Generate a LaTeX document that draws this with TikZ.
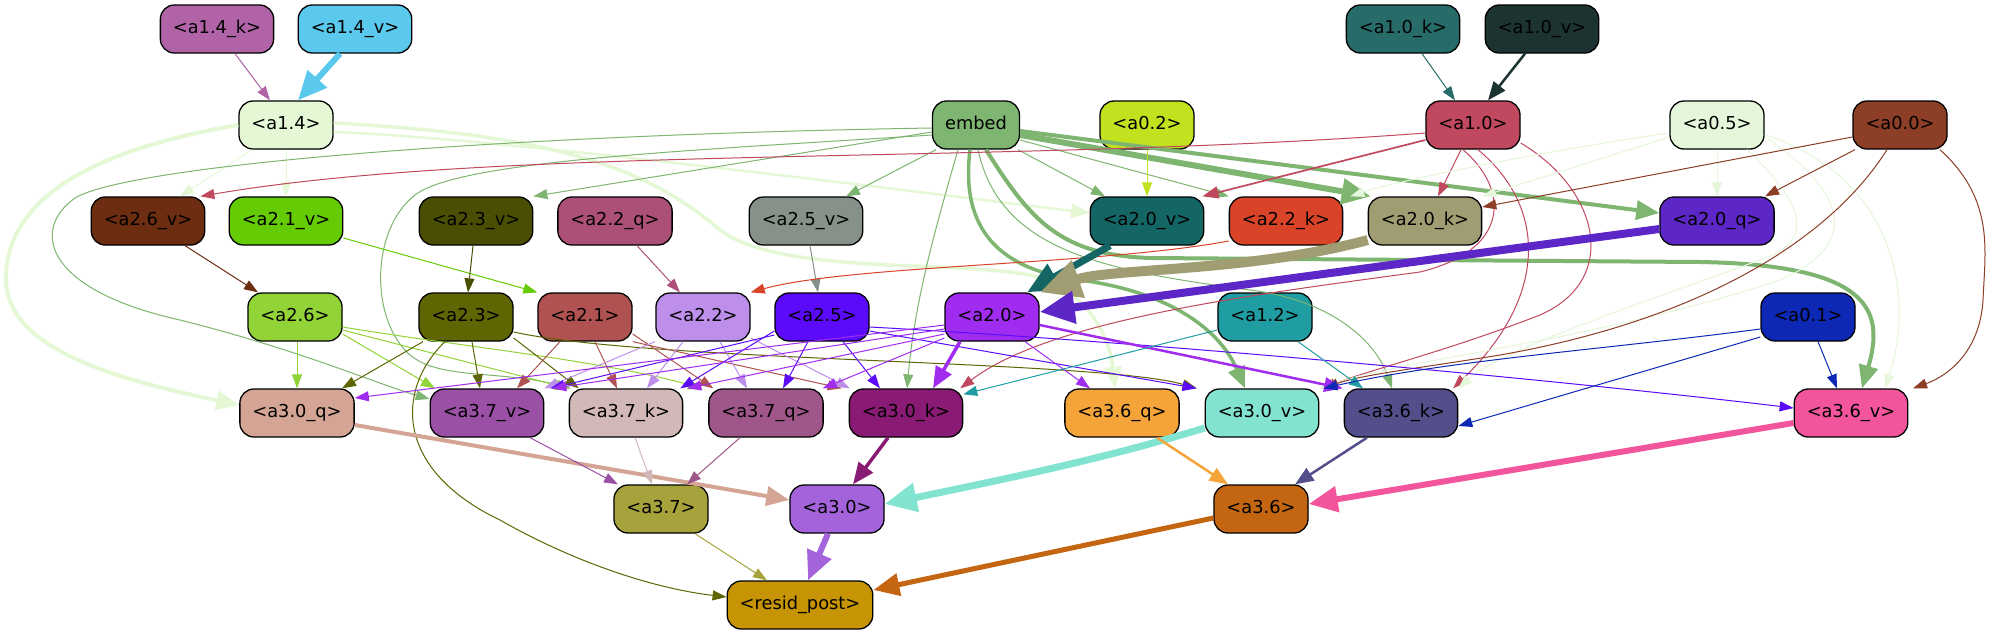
\documentclass[tikz,border=0pt]{standalone}
\usepackage{fontspec}
\setmainfont{DejaVu Sans}
\usetikzlibrary{arrows.meta}
\definecolor{c14k}{HTML}{B163A7}
\definecolor{c14v}{HTML}{5AC9ED}
\definecolor{c14}{HTML}{E5F8D5}
\definecolor{cemb}{HTML}{7EB570}
\definecolor{c02}{HTML}{C2E21F}
\definecolor{c10k}{HTML}{276C68}
\definecolor{c10v}{HTML}{1C3332}
\definecolor{c10}{HTML}{C0485F}
\definecolor{c05}{HTML}{E5F7DA}
\definecolor{c00}{HTML}{8C3E27}
\definecolor{c26v}{HTML}{6C2D10}
\definecolor{c21v}{HTML}{64CB05}
\definecolor{c23v}{HTML}{494E02}
\definecolor{c22q}{HTML}{AC5078}
\definecolor{c25v}{HTML}{859189}
\definecolor{c20v}{HTML}{136664}
\definecolor{c22k}{HTML}{D94428}
\definecolor{c20k}{HTML}{A09D72}
\definecolor{c20q}{HTML}{5D26C7}
\definecolor{c26}{HTML}{92D337}
\definecolor{c23}{HTML}{5E6502}
\definecolor{c21}{HTML}{B05251}
\definecolor{c22}{HTML}{BD8EEA}
\definecolor{c25}{HTML}{5B0BFA}
\definecolor{c20}{HTML}{A02CF0}
\definecolor{c12}{HTML}{1F9DA2}
\definecolor{c01}{HTML}{0E28B6}
\definecolor{c30q}{HTML}{D4A494}
\definecolor{c37v}{HTML}{9A50A5}
\definecolor{c37k}{HTML}{D2B9B7}
\definecolor{c37q}{HTML}{9F5689}
\definecolor{c30k}{HTML}{8A1B74}
\definecolor{c36q}{HTML}{F5A43A}
\definecolor{c30v}{HTML}{82E3D1}
\definecolor{c36k}{HTML}{534F8B}
\definecolor{c36v}{HTML}{F2559B}
\definecolor{c37}{HTML}{A7A33C}
\definecolor{c30}{HTML}{A563DB}
\definecolor{c36}{HTML}{C46611}
\definecolor{cres}{HTML}{C79405}
\tikzset{
  box/.style={draw=black, line width=1.3pt, rounded corners=14pt, minimum height=48pt,
    inner xsep=12.5pt, inner ysep=0pt, text height=13pt, text depth=4pt, text=black,
    font=\fontsize{17.8pt}{21pt}\selectfont},
  ed/.style 2 args={draw=#1, line width=#2, -{Triangle[length=11pt 3, width=7pt 3]}}
}
\begin{document}
\begin{tikzpicture}[x=1pt,y=-1pt]
\fill[white] (0,0) rectangle (1994,635);
\useasboundingbox (0,0) rectangle (1994,635);
% row 0
\node[box,fill=c14k] (a14k) at (217,29) {<a1.4\_k>};
\node[box,fill=c14v] (a14v) at (355,29) {<a1.4\_v>};
\node[box,fill=c10k] (a10k) at (1403,29) {<a1.0\_k>};
\node[box,fill=c10v] (a10v) at (1542,29) {<a1.0\_v>};
% row 1
\node[box,fill=c14] (a14) at (286,125) {<a1.4>};
\node[box,fill=cemb] (embed) at (976,125) {embed};
\node[box,fill=c02] (a02) at (1147,125) {<a0.2>};
\node[box,fill=c10] (a10) at (1473,125) {<a1.0>};
\node[box,fill=c05] (a05) at (1717,125) {<a0.5>};
\node[box,fill=c00] (a00) at (1900,125) {<a0.0>};
% row 2
\node[box,fill=c26v] (a26v) at (148,221) {<a2.6\_v>};
\node[box,fill=c21v] (a21v) at (286,221) {<a2.1\_v>};
\node[box,fill=c23v] (a23v) at (476,221) {<a2.3\_v>};
\node[box,fill=c22q] (a22q) at (615,221) {<a2.2\_q>};
\node[box,fill=c25v] (a25v) at (806,221) {<a2.5\_v>};
\node[box,fill=c20v] (a20v) at (1147,221) {<a2.0\_v>};
\node[box,fill=c22k] (a22k) at (1286,221) {<a2.2\_k>};
\node[box,fill=c20k] (a20k) at (1425,221) {<a2.0\_k>};
\node[box,fill=c20q] (a20q) at (1717,221) {<a2.0\_q>};
% row 3
\node[box,fill=c26] (a26) at (295,317) {<a2.6>};
\node[box,fill=c23] (a23) at (466,317) {<a2.3>};
\node[box,fill=c21] (a21) at (585,317) {<a2.1>};
\node[box,fill=c22] (a22) at (703,317) {<a2.2>};
\node[box,fill=c25] (a25) at (822,317) {<a2.5>};
\node[box,fill=c20] (a20) at (992,317) {<a2.0>};
\node[box,fill=c12] (a12) at (1265,317) {<a1.2>};
\node[box,fill=c01] (a01) at (1808,317) {<a0.1>};
% row 4
\node[box,fill=c30q] (a30q) at (297,413) {<a3.0\_q>};
\node[box,fill=c37v] (a37v) at (487,413) {<a3.7\_v>};
\node[box,fill=c37k] (a37k) at (626,413) {<a3.7\_k>};
\node[box,fill=c37q] (a37q) at (766,413) {<a3.7\_q>};
\node[box,fill=c30k] (a30k) at (906,413) {<a3.0\_k>};
\node[box,fill=c36q] (a36q) at (1122,413) {<a3.6\_q>};
\node[box,fill=c30v] (a30v) at (1262,413) {<a3.0\_v>};
\node[box,fill=c36k] (a36k) at (1401,413) {<a3.6\_k>};
\node[box,fill=c36v] (a36v) at (1851,413) {<a3.6\_v>};
% row 5
\node[box,fill=c37] (a37) at (661,509) {<a3.7>};
\node[box,fill=c30] (a30) at (837,509) {<a3.0>};
\node[box,fill=c36] (a36) at (1261,509) {<a3.6>};
% row 6
\node[box,fill=cres] (resid) at (800,605) {<resid\_post>};

% ---- edges rows 0-1
\draw[ed={c14k}{1pt}] ([xshift=18pt]a14k.south) -- ([xshift=-16pt]a14.north);
\draw[ed={c14v}{6pt}] ([xshift=-15pt]a14v.south) -- ([xshift=12pt]a14.north);
\draw[ed={c10k}{1pt}] ([xshift=19pt]a10k.south) -- ([xshift=-18pt]a10.north);
\draw[ed={c10v}{2.5pt}] ([xshift=-17pt]a10v.south) -- ([xshift=15pt]a10.north);
% ---- from a1.4
\draw[ed={c14}{1pt}] ([xshift=-34pt]a14.south) -- ([xshift=32pt]a26v.north);
\draw[ed={c14}{1pt}] (a14.south) -- (a21v.north);
\draw[ed={c14}{4pt}] (a14.west) .. controls (90,150) and (5,200) .. (6,280) .. controls (7,350) and (120,380) .. ([yshift=8pt]a30q.west);
\draw[ed={c14}{2.5pt}] ([yshift=-7pt]a14.east) .. controls (500,138) and (900,190) .. ([yshift=8pt]a20v.west);
\draw[ed={c14}{3.5pt}] ([yshift=2pt]a14.east) .. controls (560,135) and (650,170) .. (720,230) .. controls (780,275) and (950,260) .. (1030,275) .. controls (1090,290) and (1110,340) .. ([xshift=-7pt]a36q.north);
% ---- from embed
\draw[ed={cemb}{1pt}] ([yshift=-7pt]embed.west) -- (a23v.north east);
\draw[ed={cemb}{1pt}] ([xshift=-40pt]embed.south) -- ([xshift=40pt]a25v.north);
\draw[ed={cemb}{1pt}] ([xshift=42pt]embed.south) -- ([xshift=-42pt]a20v.north);
\draw[ed={cemb}{1pt}] ([yshift=-15pt]embed.east) -- (a22k.north west);
\draw[ed={cemb}{6pt}] ([yshift=-10pt]embed.east) -- ([xshift=3pt]a20k.north west);
\draw[ed={cemb}{4pt}] ([yshift=-6pt]embed.east) -- ([yshift=8pt]a20q.west);
\draw[ed={cemb}{3.5pt}] ([xshift=-6pt]embed.south) .. controls (960,230) and (1000,270) .. (1080,280) .. controls (1170,292) and (1220,330) .. ([xshift=-17pt]a30v.north);
\draw[ed={cemb}{4pt}] ([xshift=10pt]embed.south) .. controls (1030,220) and (1060,255) .. (1150,258) -- (1700,262) .. controls (1870,265) and (1885,310) .. ([xshift=11pt]a36v.north);
\draw[ed={cemb}{1pt}] ([xshift=-18pt]embed.south) .. controls (935,230) and (915,300) .. ([xshift=1pt]a30k.north);
\draw[ed={cemb}{1pt}] ([xshift=2pt]embed.south) .. controls (1000,250) and (1100,270) .. (1250,290) .. controls (1330,300) and (1375,340) .. ([xshift=-9pt]a36k.north);
\draw[ed={cemb}{1pt}] ([yshift=-3pt]embed.west) .. controls (500,135) and (130,165) .. (75,198) .. controls (30,230) and (45,290) .. (180,320) .. controls (300,350) and (380,385) .. ([yshift=14pt]a37v.west);
\draw[ed={cemb}{1pt}] ([yshift=-10pt]embed.west) .. controls (700,150) and (460,160) .. (415,195) .. controls (370,230) and (370,320) .. (410,355) .. controls (440,380) and (500,370) .. ([xshift=2pt]a37k.north west);
% ---- from a1.0
\draw[ed={c10}{1pt}] ([yshift=-8pt]a10.west) .. controls (1000,165) and (500,145) .. ([xshift=-5pt]a26v.north east);
\draw[ed={c10}{1.7pt}] ([yshift=-15pt]a10.west) -- ([xshift=-2pt]a20v.north east);
\draw[ed={c10}{1pt}] ([xshift=-12pt]a10.south) -- ([xshift=13pt]a20k.north);
\draw[ed={c10}{1pt}] ([xshift=-10pt]a10.south) .. controls (1510,190) and (1510,250) .. (1420,272) .. controls (1250,295) and (1050,320) .. ([xshift=-3pt]a30k.north east);
\draw[ed={c10}{1pt}] ([xshift=5pt]a10.south) .. controls (1550,210) and (1545,300) .. ([xshift=52pt]a36k.north);
\draw[ed={c10}{1pt}] ([yshift=-18pt]a10.east) .. controls (1600,190) and (1620,280) .. (1540,315) .. controls (1450,350) and (1370,370) .. ([xshift=2pt]a30v.north east);
% ---- from a0.5
\draw[ed={c05}{1pt}] (a05.south) -- (a20q.north);
\draw[ed={c05}{1pt}] ([yshift=-12pt]a05.west) -- (a20k.north east);
\draw[ed={c05}{1pt}] ([yshift=-8pt]a05.west) .. controls (1550,150) and (1400,180) .. ([xshift=7pt]a22k.north east);
\draw[ed={c05}{1pt}] ([yshift=-10pt]a05.east) .. controls (1880,170) and (1920,280) .. ([xshift=34pt]a36v.north);
\draw[ed={c05}{1pt}] ([xshift=30pt]a05.south) .. controls (1800,200) and (1820,240) .. (1760,260) .. controls (1650,300) and (1500,350) .. (a36k.north east);
\draw[ed={c05}{1pt}] ([yshift=-12pt]a05.east) .. controls (1860,200) and (1850,250) .. (1780,280) .. controls (1600,340) and (1400,360) .. (a30v.north east);
% ---- from a0.0
\draw[ed={c00}{1pt}] ([yshift=-12pt]a00.west) -- ([yshift=14pt]a20k.east);
\draw[ed={c00}{1pt}] ([xshift=-45pt]a00.south) -- ([xshift=48pt]a20q.north);
\draw[ed={c00}{1pt}] ([xshift=-13pt]a00.south) .. controls (1830,240) and (1700,320) .. (1500,355) .. controls (1420,368) and (1360,375) .. ([xshift=5pt]a30v.north east);
\draw[ed={c00}{1pt}] ([xshift=40pt]a00.south) .. controls (1995,200) and (1985,250) .. (1983,300) .. controls (1980,350) and (1950,375) .. ([xshift=62pt]a36v.north);
% ---- a0.2
\draw[ed={c02}{1pt}] (a02.south) -- (a20v.north);
% ---- rows 2-3
\draw[ed={c26v}{1pt}] ([xshift=37pt]a26v.south) -- ([xshift=-37pt]a26.north);
\draw[ed={c21v}{1pt}] ([yshift=-17pt]a21v.east) -- (a21.north west);
\draw[ed={c23v}{1pt}] ([xshift=-3pt]a23v.south) -- ([xshift=2pt]a23.north);
\draw[ed={c22q}{1pt}] ([xshift=22pt]a22q.south) -- ([xshift=-23pt]a22.north);
\draw[ed={c25v}{1pt}] ([xshift=4pt]a25v.south) -- ([xshift=-4pt]a25.north);
\draw[ed={c22k}{1pt}] ([yshift=-20pt]a22k.west) .. controls (1100,265) and (850,265) .. (a22.north east);
\draw[ed={c20v}{7pt}] ([xshift=-37pt]a20v.south) -- ([xshift=35pt]a20.north);
\draw[ed={c20k}{10pt}] ([yshift=-19pt]a20k.west) .. controls (1250,272) and (1110,268) .. (a20.north east);
\draw[ed={c20q}{8pt}] ([yshift=-8pt]a20q.west) -- ([yshift=5pt]a20.east);
% ---- rows 3-4
\draw[ed={c26}{1pt}] ([xshift=2pt]a26.south) -- (a30q.north);
\draw[ed={c26}{1pt}] ([yshift=-17pt]a26.east) -- ([xshift=-52pt]a37v.north);
\draw[ed={c26}{1pt}] ([yshift=-13pt]a26.east) -- (a37k.north west);
\draw[ed={c26}{1pt}] ([yshift=-10pt]a26.east) .. controls (450,345) and (600,360) .. ([xshift=-6pt]a37q.north west);
\draw[ed={c23}{1pt}] ([xshift=-43pt]a23.south) -- ([xshift=45pt]a30q.north);
\draw[ed={c23}{1pt}] ([xshift=6pt]a23.south) -- ([xshift=-7pt]a37v.north);
\draw[ed={c23}{1pt}] ([yshift=-21pt]a23.east) -- ([xshift=10pt]a37k.north west);
\draw[ed={c23}{1pt}] ([yshift=-15pt]a23.east) .. controls (650,362) and (1100,360) .. ([xshift=-8pt]a30v.north west);
\draw[ed={c23}{1pt}] ([xshift=-21pt]a23.south) .. controls (395,390) and (395,470) .. (500,520) .. controls (570,560) and (650,588) .. ([yshift=8pt]resid.west);
\draw[ed={c21}{1pt}] ([xshift=-25pt]a21.south) -- ([xshift=30pt]a37v.north);
\draw[ed={c21}{1pt}] ([xshift=10pt]a21.south) -- ([xshift=-9pt]a37k.north);
\draw[ed={c21}{1pt}] ([yshift=-17pt]a21.east) -- ([xshift=5pt]a37q.north west);
\draw[ed={c21}{1pt}] (a21.south east) -- ([xshift=-7pt]a30k.north west);
\draw[ed={c22}{1pt}] ([xshift=-48pt]a22.south) -- (a37v.north east);
\draw[ed={c22}{1pt}] ([xshift=-20pt]a22.south) -- ([xshift=21pt]a37k.north);
\draw[ed={c22}{1pt}] ([xshift=17pt]a22.south) -- ([xshift=-19pt]a37q.north);
\draw[ed={c22}{1pt}] ([yshift=-21pt]a22.east) -- ([xshift=1pt]a30k.north west);
\draw[ed={c25}{1pt}] ([yshift=-18pt]a25.west) -- ([xshift=6pt]a37v.north east);
\draw[ed={c25}{1pt}] ([yshift=-14pt]a25.west) -- ([xshift=-3pt]a37k.north east);
\draw[ed={c25}{1pt}] ([xshift=-14pt]a25.south) -- ([xshift=17pt]a37q.north);
\draw[ed={c25}{1pt}] ([xshift=21pt]a25.south) -- ([xshift=-26pt]a30k.north);
\draw[ed={c25}{1pt}] ([yshift=-14pt]a25.east) -- ([xshift=-8pt]a30v.north west);
\draw[ed={c25}{1pt}] ([yshift=-10pt]a25.east) .. controls (1200,345) and (1600,385) .. ([yshift=5pt]a36v.west);
\draw[ed={c20}{1pt}] ([yshift=-8pt]a20.west) -- ([yshift=15pt]a30q.east);
\draw[ed={c20}{1pt}] ([yshift=-12pt]a20.west) -- ([xshift=8pt]a37v.north east);
\draw[ed={c20}{1pt}] ([yshift=-17pt]a20.west) -- ([xshift=4pt]a37k.north east);
\draw[ed={c20}{1pt}] ([yshift=-21pt]a20.west) -- ([xshift=-1pt]a37q.north east);
\draw[ed={c20}{3.5pt}] ([xshift=-32pt]a20.south) -- ([xshift=27pt]a30k.north);
\draw[ed={c20}{1pt}] ([xshift=33pt]a20.south) -- ([xshift=-32pt]a36q.north);
\draw[ed={c20}{2.5pt}] ([yshift=-8pt]a20.east) -- ([xshift=-1pt]a36k.north west);
\draw[ed={c12}{1pt}] ([yshift=-13pt]a12.west) -- ([yshift=-6pt]a30k.north east);
\draw[ed={c12}{1pt}] ([xshift=33pt]a12.south) -- ([xshift=-38pt]a36k.north);
\draw[ed={c01}{1pt}] ([xshift=10pt]a01.south) -- ([xshift=-14pt]a36v.north);
\draw[ed={c01}{1pt}] ([yshift=-20pt]a01.west) -- ([yshift=-13pt]a36k.east);
\draw[ed={c01}{1pt}] ([yshift=-12pt]a01.west) .. controls (1600,350) and (1450,360) .. ([xshift=4pt]a30v.north east);
% ---- rows 4-5
\draw[ed={c30q}{4pt}] ([yshift=-12pt]a30q.east) -- ([yshift=9pt]a30.west);
\draw[ed={c37v}{1pt}] ([xshift=43pt]a37v.south) -- ([xshift=-43pt]a37.north);
\draw[ed={c37k}{1pt}] ([xshift=9pt]a37k.south) -- ([xshift=-9pt]a37.north);
\draw[ed={c37q}{1pt}] ([xshift=-26pt]a37q.south) -- ([xshift=26pt]a37.north);
\draw[ed={c30k}{3.5pt}] ([xshift=-18pt]a30k.south) -- ([xshift=16pt]a30.north);
\draw[ed={c30v}{7pt}] ([yshift=-15pt]a30v.west) .. controls (1100,460) and (1000,480) .. ([yshift=5pt]a30.east);
\draw[ed={c36q}{2.5pt}] ([xshift=35pt]a36q.south) -- ([xshift=-33pt]a36.north);
\draw[ed={c36k}{2.5pt}] ([xshift=-34pt]a36k.south) -- ([xshift=34pt]a36.north);
\draw[ed={c36v}{6pt}] ([yshift=-10pt]a36v.west) -- ([yshift=5pt]a36.east);
% ---- rows 5-6
\draw[ed={c37}{1pt}] ([xshift=34pt]a37.south) -- ([xshift=-33pt]resid.north);
\draw[ed={c30}{6pt}] ([xshift=-9pt]a30.south) -- ([xshift=8pt]resid.north);
\draw[ed={c36}{5pt}] ([yshift=-9pt]a36.west) -- ([yshift=15pt]resid.east);
\end{tikzpicture}
\end{document}
